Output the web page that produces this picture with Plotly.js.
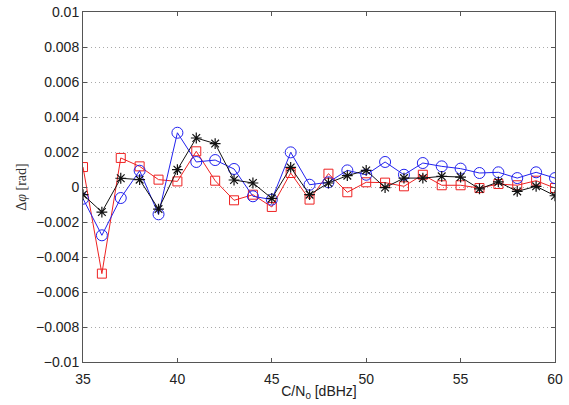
<!DOCTYPE html>
<html>
<head>
<meta charset="utf-8">
<script src="https://cdn.plot.ly/plotly-3.0.1.min.js"></script>
<style>html,body{margin:0;padding:0;background:#fff;}#chart{width:569px;height:405px;}</style>
</head>
<body>
<div id="chart"></div>
<script>
const cn0 = [35,36,37,38,39,40,41,42,43,44,45,46,47,48,49,50,51,52,53,54,55,56,57,58,59,60];
const blueCircle = [-0.00067,-0.00276,-0.00063,0.00093,-0.00156,0.0031,0.00143,0.00154,0.00103,-0.00053,-0.00072,0.00198,0.00013,0.00027,0.00095,0.0007,0.00143,0.0007,0.00137,0.00118,0.00105,0.0008,0.00084,0.00051,0.00084,0.00051];
const redSquare = [0.00114,-0.00495,0.00166,0.00118,0.00042,0.00032,0.00204,0.00036,-0.00076,-0.00044,-0.00114,0.0008,-0.00072,0.00076,-0.0003,0.00027,0.00025,0.00004,0.0007,0.0001,0.0001,-0.00006,0.00017,0.0001,0.00036,-0.00006];
const blackStar = [-0.00044,-0.00143,0.0005,0.00042,-0.00126,0.00099,0.0028,0.00248,0.0004,0.00023,-0.00065,0.00112,-0.00044,0.00023,0.00065,0.00095,-0.00003,0.00051,0.00051,0.00061,0.00057,-0.00011,0.00029,-0.00025,0.00004,-0.0005];
const yTickVals = [-0.01,-0.008,-0.006,-0.004,-0.002,0,0.002,0.004,0.006,0.008,0.01];
const yTickText = ['\u22120.01','\u22120.008','\u22120.006','\u22120.004','\u22120.002','0','0.002','0.004','0.006','0.008','0.01'];
const xTickVals = [35,40,45,50,55,60];

const traces = [
  {x: cn0, y: redSquare, type:'scatter', mode:'lines+markers', name:'red',
   line:{color:'#ee2222', width:1}, marker:{symbol:'square-open', size:9, color:'#ee2222', line:{width:1}}},
  {x: cn0, y: blueCircle, type:'scatter', mode:'lines+markers', name:'blue',
   line:{color:'#2222ee', width:1}, marker:{symbol:'circle-open', size:11, color:'#2222ee', line:{width:1}}},
  {x: cn0, y: blackStar, type:'scatter', mode:'lines+markers', name:'black',
   line:{color:'#111111', width:1}, marker:{symbol:'asterisk-open', size:9, color:'#111111', line:{width:1.2}}}
];

const axisCommon = {
  showline:true, linecolor:'#555', linewidth:1, mirror:'ticks',
  ticks:'inside', ticklen:4, tickcolor:'#555',
  zeroline:false,
  tickfont:{family:'Liberation Sans, Arial, sans-serif', size:14, color:'#222'}
};

const layout = {
  width:569, height:405,
  margin:{l:83, r:14, t:12, b:43},
  paper_bgcolor:'#fff', plot_bgcolor:'#fff',
  showlegend:false,
  xaxis: Object.assign({}, axisCommon, {
    range:[35,60], tickvals:xTickVals, showgrid:false, ticklabelstandoff:4,
    title:{text:'C/N<sub>0</sub> [dBHz]', standoff:0, font:{family:'Liberation Sans, Arial, sans-serif', size:14, color:'#222'}}
  }),
  yaxis: Object.assign({}, axisCommon, {
    range:[-0.01,0.01], tickvals:yTickVals, ticktext:yTickText,
    showgrid:true, gridcolor:'#aaaaaa', griddash:'1px,3px', gridwidth:1,
    title:{text:'\u0394<i>\u03C6</i> [rad]', standoff:6, font:{family:'Liberation Serif, Times New Roman, serif', size:14, color:'#333'}}
  })
};

Plotly.newPlot('chart', traces, layout, {displayModeBar:false, staticPlot:true});
</script>
</body>
</html>
